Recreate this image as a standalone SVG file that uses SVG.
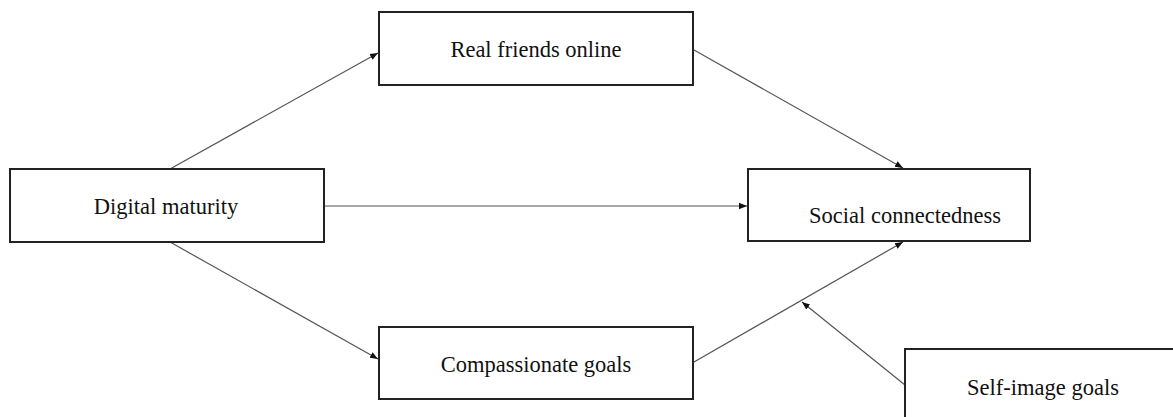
<svg xmlns="http://www.w3.org/2000/svg" width="1173" height="417" viewBox="0 0 1173 417">
<defs>
<style>
.box{fill:#fff;stroke:#222;stroke-width:2}
.lbl{font-family:"Liberation Serif","Times New Roman",serif;font-size:22.5px;fill:#111;text-anchor:middle}
.edge{stroke:#555;stroke-width:1.2;fill:none;marker-end:url(#ah)}
</style>
<marker id="ah" viewBox="0 0 10 10" refX="10" refY="5" markerWidth="8" markerHeight="8" markerUnits="userSpaceOnUse" orient="auto">
<path d="M0,1 L10,5 L0,9 z" fill="#111"/>
</marker>
</defs>
<rect width="1173" height="417" fill="#fff"/>
<g id="connectors">
<line class="edge" x1="170" y1="169" x2="378" y2="53"/>
<line class="edge" x1="170" y1="242" x2="378" y2="359"/>
<line class="edge" x1="324" y1="206" x2="747" y2="206"/>
<line class="edge" x1="694" y1="50" x2="903" y2="168"/>
<line class="edge" x1="694" y1="362" x2="903" y2="242"/>
<line class="edge" x1="905" y1="385" x2="802" y2="302"/>
</g>
<g id="digital-maturity">
<rect class="box" x="10" y="169" width="314" height="73"/>
<text class="lbl" x="166" y="214">Digital maturity</text>
</g>
<g id="real-friends-online">
<rect class="box" x="379" y="12" width="314" height="73"/>
<text class="lbl" x="536" y="57">Real friends online</text>
</g>
<g id="social-connectedness">
<rect class="box" x="748" y="169" width="282" height="72"/>
<text class="lbl" x="905" y="223">Social connectedness</text>
</g>
<g id="compassionate-goals">
<rect class="box" x="379" y="327" width="314" height="72"/>
<text class="lbl" x="536" y="372">Compassionate goals</text>
</g>
<g id="self-image-goals">
<rect class="box" x="905" y="349" width="280" height="80"/>
<text class="lbl" x="1043" y="395">Self-image goals</text>
</g>
</svg>
